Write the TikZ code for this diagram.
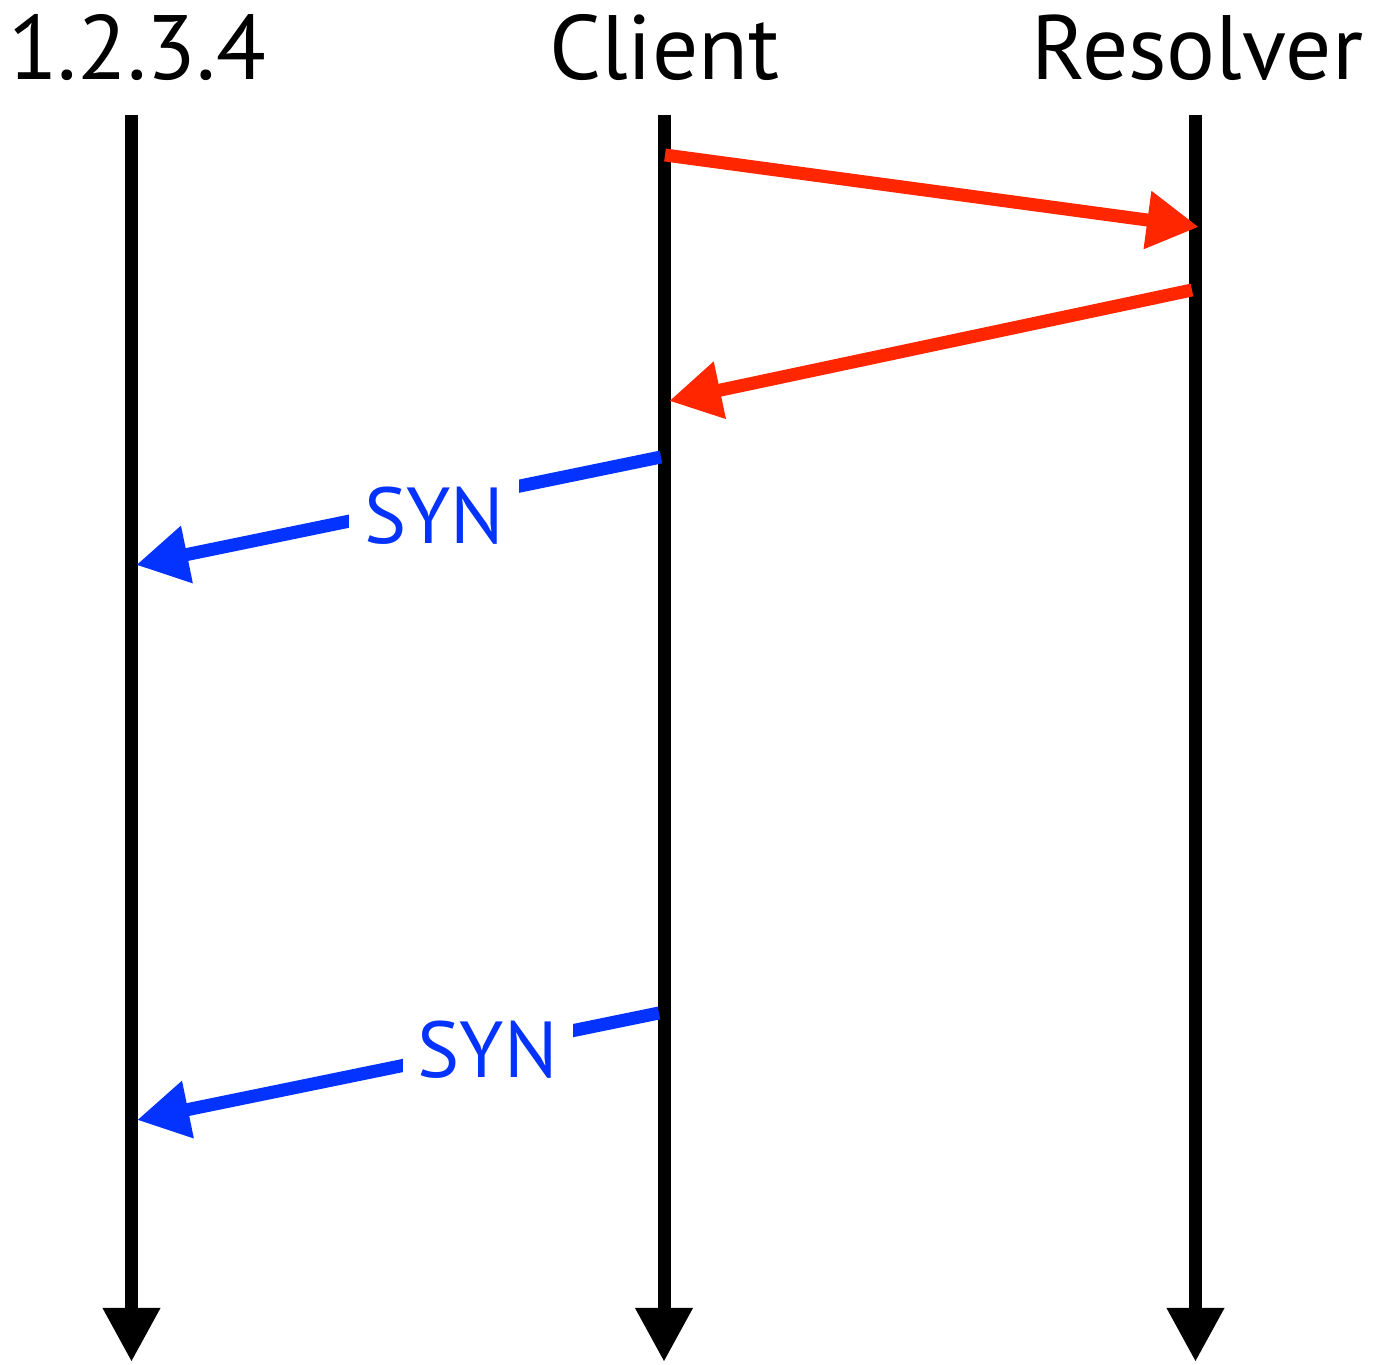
\documentclass[tikz,border=0pt]{standalone}
\usepackage{fontspec}
\setmainfont{PT Sans}
\usetikzlibrary{arrows.meta}
\definecolor{msgred}{RGB}{255,38,0}
\definecolor{msgblue}{RGB}{4,51,255}

\begin{document}
\begin{tikzpicture}[
    lifeline/.style={line width=0.13cm, -{Triangle[length=0.54cm,width=0.54cm]}},
    msg/.style={line width=0.13cm, -{Triangle[length=0.52cm,width=0.55cm]}},
    hostname/.style={anchor=base, font=\fontsize{26}{30}\selectfont},
    msglabel/.style={fill=white, inner xsep=0.15cm, inner ysep=0.15cm, text=msgblue, font=\fontsize{22.6}{26}\selectfont}]
    \useasboundingbox (0,0) rectangle (13.76,13.65);

    % hosts
    \node[hostname] (ip) at (1.37,12.85) {1.2.3.4};
    \node[hostname] (client) at (6.645,12.85) {Client};
    \node[hostname] (resolver) at (11.975,12.85) {Resolver};

    \coordinate (ipTop) at (1.315,12.50);
    \coordinate (ipEnd) at (1.315,0.03);
    \coordinate (clientTop) at (6.64,12.50);
    \coordinate (clientEnd) at (6.64,0.03);
    \coordinate (resolverTop) at (11.955,12.50);
    \coordinate (resolverEnd) at (11.955,0.03);

    \draw[lifeline] (ipTop) -- (ipEnd);
    \draw[lifeline] (clientTop) -- (clientEnd);
    \draw[lifeline] (resolverTop) -- (resolverEnd);

    % message ends
    \coordinate (q1) at (6.65,12.10);
    \coordinate (q2) at (11.99,11.38);
    \coordinate (r1) at (11.92,10.75);
    \coordinate (r2) at (6.69,9.64);
    \coordinate (s1) at (6.61,9.08);
    \coordinate (s2) at (1.36,8.00);
    \coordinate (t1) at (6.59,3.52);
    \coordinate (t2) at (1.37,2.45);

    \draw[msg, msgred] (q1) -- (q2);
    \draw[msg, msgred] (r1) -- (r2);
    \draw[msg, msgblue] (s1) -- (s2) node[msglabel, pos=0.432, yshift=-0.12cm] (syn1) {SYN};
    \draw[msg, msgblue] (t1) -- (t2) node[msglabel, pos=0.328, yshift=-0.02cm] (syn2) {SYN};
\end{tikzpicture}
\end{document}
